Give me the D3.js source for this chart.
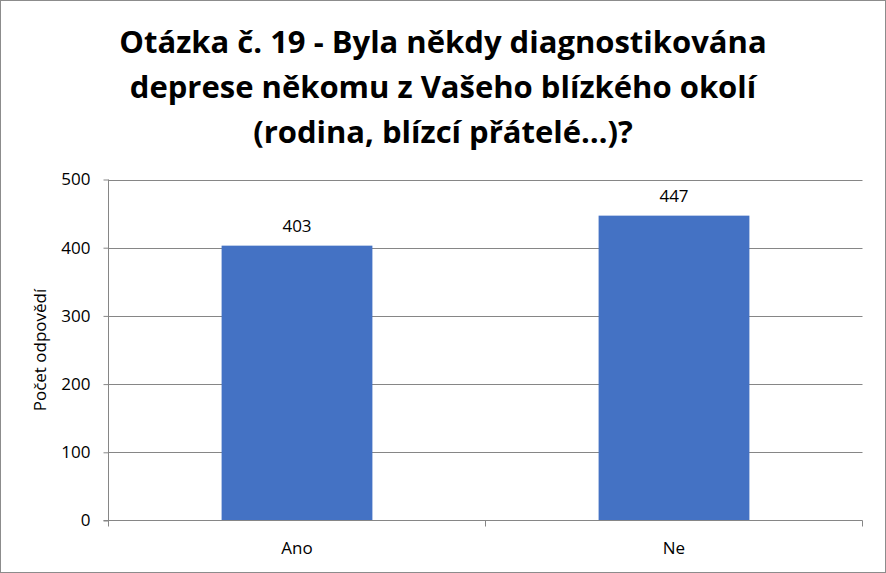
<!DOCTYPE html>
<html><head><meta charset="utf-8">
<script src="https://cdn.jsdelivr.net/npm/d3@7"></script>
<style>body{margin:0;background:#fff}svg{display:block}</style>
</head><body>
<script>
const categories = ["Ano", "Ne"];
const values = [403, 447];
const yTicks = [0, 100, 200, 300, 400, 500];
const titleLines = ["Otázka č. 19 - Byla někdy diagnostikována", "deprese někomu z Vašeho blízkého okolí", "(rodina, blízcí přátelé…)?"];
const yLabel = "Počet odpovědí";

const W = 886, H = 573;
const m = {left: 108.5, right: 862.5, top: 179.5, bottom: 520.5};
const font = "'Open Sans', 'Noto Sans', sans-serif";
const svg = d3.select("body").append("svg").attr("width", W).attr("height", H);
svg.append("rect").attr("x", 0.5).attr("y", 0.5).attr("width", W - 1).attr("height", H - 1)
  .attr("fill", "#fff").attr("stroke", "#8c8c8c");

const x = d3.scaleBand().domain(categories).range([m.left, m.right]).paddingInner(0.6).paddingOuter(0.3);
const y = d3.scaleLinear().domain([0, 500]).range([m.bottom, m.top]);

// title
svg.append("text").attr("x", 443).attr("y", 53).attr("text-anchor", "middle")
  .attr("font-family", font).attr("font-weight", "bold").attr("font-size", 31).attr("fill", "#000")
  .selectAll("tspan").data(titleLines).join("tspan")
  .attr("x", 443).attr("dy", (d, i) => i === 0 ? 0 : 45).text(d => d);

// gridlines
svg.append("g").selectAll("line").data(yTicks.filter(t => t > 0)).join("line")
  .attr("x1", m.left).attr("x2", m.right).attr("y1", d => Math.round(y(d)) + 0.5).attr("y2", d => Math.round(y(d)) + 0.5)
  .attr("stroke", "#868686").attr("stroke-width", 1);

// y axis
const yAxis = svg.append("g").attr("transform", `translate(${m.left},0)`)
  .call(d3.axisLeft(y).tickValues(yTicks).tickSize(5).tickPadding(13));
yAxis.select(".domain").attr("stroke", "#868686").attr("d", `M-0,${m.top}V${m.bottom}`);
yAxis.selectAll(".tick line").attr("stroke", "#868686");
yAxis.selectAll(".tick text").attr("font-family", font).attr("font-size", 17).attr("fill", "#000");

// bars
svg.append("g").selectAll("rect").data(values).join("rect")
  .attr("x", (d, i) => x(categories[i])).attr("width", x.bandwidth())
  .attr("y", d => y(d)).attr("height", d => y(0) - y(d)).attr("fill", "#4472C4");

// x axis
const xAxisG = svg.append("g").attr("transform", `translate(0,${m.bottom})`);
xAxisG.append("line").attr("x1", m.left - 5).attr("x2", m.right).attr("y1", 0).attr("y2", 0).attr("stroke", "#868686");
const bounds = [m.left, (m.left + m.right) / 2, m.right];
xAxisG.selectAll("line.tk").data(bounds).join("line").attr("class", "tk")
  .attr("x1", d => d).attr("x2", d => d).attr("y1", 0).attr("y2", 6).attr("stroke", "#868686");
xAxisG.selectAll("text").data(categories).join("text")
  .attr("x", d => x(d) + x.bandwidth() / 2).attr("y", 33).attr("text-anchor", "middle")
  .attr("font-family", font).attr("font-size", 17).attr("fill", "#000").text(d => d);

// data labels
svg.append("g").selectAll("text").data(values).join("text")
  .attr("x", (d, i) => x(categories[i]) + x.bandwidth() / 2).attr("y", d => y(d) - 14)
  .attr("text-anchor", "middle").attr("font-family", font).attr("font-size", 17).attr("fill", "#000").text(d => d);

// y label
svg.append("text").attr("transform", `translate(46,350) rotate(-90)`).attr("text-anchor", "middle")
  .attr("font-family", font).attr("font-size", 17).attr("fill", "#000").text(yLabel);
</script>
</body></html>
